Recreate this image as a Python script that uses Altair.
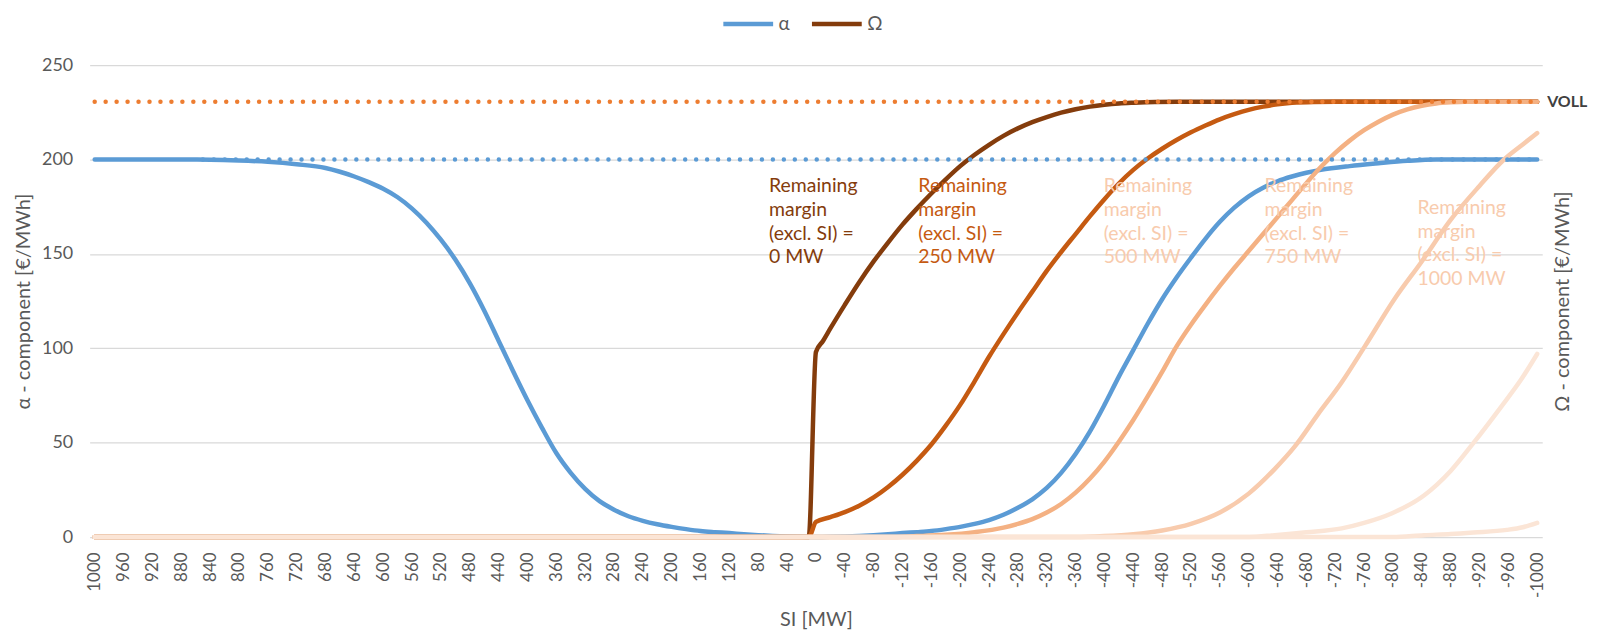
import altair as alt
import pandas as pd

FONT = "Lato"
GREY = "#595959"

# ---------------- data ----------------
alpha_si = [1000, 880, 840, 800, 760, 720, 680, 660, 640, 620, 600, 580, 560, 540, 520, 500, 480, 460, 440,
            420, 400, 380, 360, 340, 320, 300, 280, 260, 240, 220, 200, 180, 160, 140, 120, 100, 80, 60, 40,
            20, 0,
            -20, -40, -60, -80, -100, -120, -140, -160, -180, -200, -220, -240, -260, -280, -300, -320,
            -340, -360, -380, -400, -420, -440, -460, -480, -500, -520, -540, -560, -580, -600, -620,
            -640, -660, -680, -700, -740, -780, -820, -860, -1000]
alpha_val = [200, 200, 199.9, 199.5, 198.8, 197.5, 195.5, 193.5, 191, 188, 184.5, 180, 174, 166.5, 157.5,
             147, 134.5, 120, 104, 88, 72.5, 58, 44.5, 34, 25.5, 19, 14.5, 11, 8.6, 6.8, 5.4, 4.2, 3.2,
             2.6, 2.1, 1.5, 1, 0.6, 0.3, 0.1, 0,
             0.1, 0.3, 0.6, 1, 1.5, 2.1, 2.6, 3.2, 4.2, 5.4, 7, 9, 11.8, 15.5, 20, 26,
             34, 44, 56, 70, 85, 99, 113, 126, 137.5, 148, 158, 167, 174.5, 180.5, 185,
             188.5, 191, 193, 194.5, 196.5, 198, 199.3, 200, 200]

om0_si = [1000, 10, 0, -10, -20, -40, -60, -80, -100, -120, -140, -160, -180, -200, -220, -240,
          -260, -280, -300, -320, -340, -360, -380, -400, -420, -440, -470, -500, -1000]
om0_val = [0, 0, 98, 104, 110.5, 123, 135, 146, 156, 165.5, 174, 182, 189.5, 196.5, 202.5, 207.8,
           212.5, 216.5, 219.8, 222.5, 224.8, 226.6, 228, 229, 229.7, 230.1, 230.5, 230.6, 230.6]

om250_si = [1000, 10, 0, -20, -40, -60, -80, -100, -120, -140, -160, -180, -200, -220, -240, -260, -280,
            -300, -320, -340, -360, -380, -400, -420, -440, -460, -480, -500, -520, -540, -560, -580,
            -600, -620, -640, -660, -690, -720, -1000]
om250_val = [0, 0, 8, 10.5, 13.2, 16.6, 21, 26.5, 33, 40.5, 49, 59, 70, 82.5, 95.5, 107.5, 119,
             130, 141, 151, 160.5, 170, 179, 187.3, 194.5, 200.5, 205.7, 210.3, 214.4, 218, 221.3, 224,
             226.3, 228, 229.2, 230, 230.5, 230.6, 230.6]

om500_si = [1000, -100, -140, -180, -220, -260, -280, -300, -320, -340, -360, -380, -400, -420, -440,
            -460, -480, -500, -520, -540, -560, -580, -600, -620, -640, -660, -680, -700, -720, -740,
            -760, -780, -800, -820, -840, -860, -880, -900, -1000]
om500_val = [0, 0, 0.5, 1.2, 2.6, 5, 7, 9.5, 13, 17.5, 23.5, 31, 40, 50.5, 62,
             74.5, 87.5, 101, 112.5, 123, 133, 142.5, 151.5, 160.5, 169.5, 178.5, 187.5, 196, 203.5, 210,
             215.5, 220, 223.8, 226.6, 228.5, 229.7, 230.3, 230.6, 230.6]

om750_si = [1000, -360, -400, -440, -480, -520, -560, -600, -636, -664, -696, -729, -761, -802, -840,
            -880, -920, -954, -980, -1000]
om750_val = [0, 0, 0.5, 1.5, 3.5, 7, 13, 23, 36, 48, 65, 82, 101, 126, 146,
             168, 186, 200, 208, 214]

om1000_si = [1000, -600, -636, -680, -729, -760, -798, -843, -880, -912, -950, -977, -1000]
om1000_val = [0, 0, 1, 2.5, 4.6, 7.5, 12.5, 22, 35, 50, 69, 83, 97]

om1250_si = [1000, -800, -843, -880, -912, -958, -980, -1000]
om1250_val = [0, 0, 1, 1.6, 2.4, 3.8, 5.2, 7.5]

series_names = ["α", "Ω", "Ω 250", "Ω 500", "Ω 750", "Ω 1000", "Ω 1250"]
series_colors = ["#5B9BD5", "#843C0C", "#C55A11", "#F4B183", "#F8CBAD", "#FBE5D6", "#FBE5D6"]
series_si = [alpha_si, om0_si, om250_si, om500_si, om750_si, om1000_si, om1250_si]
series_val = [alpha_val, om0_val, om250_val, om500_val, om750_val, om1000_val, om1250_val]

voll_value = 230.6
alpha_cap = 200
alpha_cap_from = 850

label_texts = ["Remaining\nmargin\n(excl. SI) =\n0 MW",
               "Remaining\nmargin\n(excl. SI) =\n250 MW",
               "Remaining\nmargin\n(excl. SI) =\n500 MW",
               "Remaining\nmargin\n(excl. SI) =\n750 MW",
               "Remaining\nmargin\n(excl. SI) =\n1000 MW"]
label_si = [65, -142, -399, -622, -834]
label_val = [190.8, 190.8, 190.8, 190.8, 179.2]
label_colors = ["#843C0C", "#C55A11", "#F8CBAD", "#F8CBAD", "#F8CBAD"]

x_ticks = list(range(1000, -1001, -40))
y_ticks = [0, 50, 100, 150, 200, 250]

# ---------------- chart ----------------
W, H = 1459, 474

x_scale = alt.Scale(domain=[1007, -1007], nice=False, zero=False)
y_scale = alt.Scale(domain=[0, 250], nice=False)

x_axis = alt.Axis(values=x_ticks, labelExpr="datum.value + ''", labelAngle=270, labelFontSize=17,
                  labelFont=FONT, labelColor=GREY, labelPadding=15, ticks=False, tickSize=0,
                  domain=False, grid=False, labelOverlap=False, labelFlush=False,
                  title="SI [MW]", titleFont=FONT, titleFontSize=20, titleFontWeight="normal",
                  titleColor=GREY, titleY=83, titleBaseline="middle")
y_axis = alt.Axis(values=y_ticks, labelFontSize=18, labelFont=FONT, labelColor=GREY, labelPadding=17,
                  ticks=False, tickSize=0, domain=False, grid=True, gridColor="#D9D9D9", gridWidth=1.3,
                  title="α - component [€/MWh]", titleFont=FONT, titleFontSize=20,
                  titleFontWeight="normal", titleColor=GREY, titleX=-66, titleY=H / 2,
                  titleAngle=270, titleAlign="center", titleBaseline="middle")

legend = alt.Legend(values=["α", "Ω"], orient="none", legendX=634, legendY=-69, direction="horizontal",
                    title=None, symbolType="stroke", symbolSize=2500, symbolStrokeWidth=4.5,
                    labelFontSize=19, labelFont=FONT, labelColor=GREY, labelOffset=3, columnPadding=12)
color = alt.Color("series:N", scale=alt.Scale(domain=series_names, range=series_colors), legend=legend)

layers = []
for name, si, val in zip(series_names, series_si, series_val):
    df = pd.DataFrame({"si": si, "val": val, "series": name})
    layers.append(
        alt.Chart(df).mark_line(strokeWidth=4.5, strokeCap="round", strokeJoin="round",
                                interpolate="monotone")
        .encode(x=alt.X("si:Q", scale=x_scale, axis=x_axis),
                y=alt.Y("val:Q", scale=y_scale, axis=y_axis),
                color=color)
    )

blue_dots = alt.Chart(pd.DataFrame({"a": [alpha_cap_from], "b": [-1000], "v": [alpha_cap]})).mark_rule(
    color="#5B9BD5", strokeWidth=4.5, strokeDash=[0.01, 11], strokeCap="round"
).encode(x=alt.X("a:Q", scale=x_scale, axis=x_axis), x2="b:Q",
         y=alt.Y("v:Q", scale=y_scale, axis=y_axis))

voll_dots = alt.Chart(pd.DataFrame({"a": [1000], "b": [-1000], "v": [voll_value]})).mark_rule(
    color="#ED7D31", strokeWidth=4.5, strokeDash=[0.01, 11], strokeCap="round"
).encode(x=alt.X("a:Q", scale=x_scale, axis=x_axis), x2="b:Q",
         y=alt.Y("v:Q", scale=y_scale, axis=y_axis))

text_layers = []
for t, s, v, c in zip(label_texts, label_si, label_val, label_colors):
    text_layers.append(
        alt.Chart(pd.DataFrame({"si": [s], "v": [v], "t": [t]})).mark_text(
            align="left", baseline="top", font=FONT, fontSize=19.5, lineHeight=24, lineBreak="\n", color=c
        ).encode(x=alt.X("si:Q", scale=x_scale, axis=x_axis),
                 y=alt.Y("v:Q", scale=y_scale, axis=y_axis), text="t:N")
    )

inner = alt.layer(*layers, blue_dots, voll_dots, *text_layers)

right_axis = alt.Axis(orient="right", labels=False, ticks=False, domain=False, grid=False,
                      title="Ω - component [€/MWh]", titleFont=FONT, titleFontSize=20,
                      titleFontWeight="normal", titleColor=GREY, titleX=20, titleY=H / 2,
                      titleAngle=270, titleAlign="center", titleBaseline="middle")

voll_text = alt.Chart(pd.DataFrame({"si": [-1000], "v": [voll_value], "t": ["VOLL"]})).mark_text(
    align="left", baseline="middle", font=FONT, fontSize=16, fontWeight="bold", color="#404040", dx=10
).encode(x=alt.X("si:Q", scale=x_scale, axis=x_axis),
         y=alt.Y("v:Q", scale=alt.Scale(domain=[0, 250], nice=False), axis=right_axis),
         text="t:N")

chart = alt.layer(inner, voll_text).resolve_scale(y="independent").properties(
    width=W, height=H,
    autosize=alt.AutoSizeParams(type="none"),
    padding={"left": 82, "top": 56, "right": 53, "bottom": 92},
    background="white",
).configure_view(stroke=None)

chart.save("out.html", embed_options={"renderer": "svg", "actions": False})
